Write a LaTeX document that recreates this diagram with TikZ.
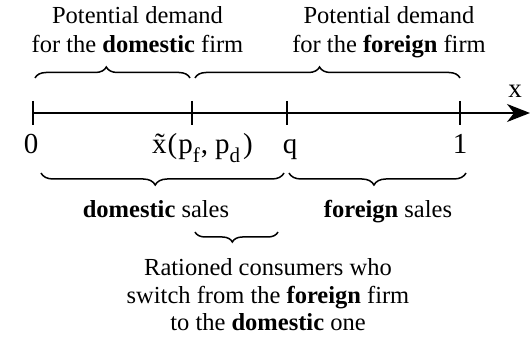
\documentclass[tikz,border=0pt]{standalone}
\usepackage{fontspec}
\setmainfont{Liberation Serif}
\usetikzlibrary{arrows.meta,decorations.pathreplacing}
\newcommand\mysub[1]{\raisebox{-0.3em}{\fontsize{21}{21}\selectfont #1}}
\begin{document}
\begin{tikzpicture}[x=1pt,y=1pt,
  axisline/.style={line width=1.5pt},
  bracebig/.style={line width=1.5pt,decorate,decoration={brace,amplitude=11pt,aspect=#1}},
  bracemir/.style={line width=1.5pt,decorate,decoration={brace,mirror,amplitude=12pt,aspect=#1}},
  toptext/.style={align=center,inner sep=0pt,anchor=north,font=\fontsize{24.5}{29}\selectfont},
  lowtext/.style={align=center,inner sep=0pt,anchor=north,font=\fontsize{24.5}{27.5}\selectfont},
  labtext/.style={inner sep=0pt,anchor=base,font=\fontsize{24.5}{29}\selectfont},
  axlab/.style={inner sep=0pt,anchor=base,font=\fontsize{29}{30}\selectfont}]
\useasboundingbox (0,0) rectangle (531,340);
% axis
\coordinate (a0) at (33,227);
\coordinate (aend) at (530,227);
\draw[axisline,-{Stealth[length=23pt,width=18pt,inset=7pt]}] (a0) -- (aend);
\coordinate (t0) at (33,227);
\coordinate (tx) at (192,227);
\coordinate (tq) at (287,227);
\coordinate (t1) at (460,227);
\foreach \t in {t0,tx,tq,t1}
  \draw[axisline] ([yshift=12pt]\t) -- ([yshift=-12pt]\t);
\node[axlab,font=\fontsize{27}{30}\selectfont] (xlab) at (515,242) {x};
% axis labels
\node[axlab] (l0) at (31,186) {0};
\node[axlab,anchor=base west] (lx) at (152,186) {\~{x}\kern1pt(\kern1pt p\mysub{f}\kern1pt,\kern7pt p\mysub{d}\kern3pt)};
\node[axlab] (lq) at (290,186) {q};
\node[axlab] (l1) at (460,186) {1};
% top braces
\coordinate (b1s) at (35,262); \coordinate (b1e) at (190,262);
\coordinate (b2s) at (195,262); \coordinate (b2e) at (460,262);
\draw[bracebig=0.46] (b1s) -- (b1e);
\draw[bracebig=0.47] (b2s) -- (b2e);
\node[toptext] (tdom) at (137.5,333.9) {Potential demand\\for the \textbf{domestic} firm};
\node[toptext] (tfor) at (389,333.9) {Potential demand\\for the \textbf{foreign} firm};
% bottom braces
\coordinate (b3s) at (41,167); \coordinate (b3e) at (284,167);
\coordinate (b4s) at (289,167); \coordinate (b4e) at (466,167);
\draw[bracemir=0.47] (b3s) -- (b3e);
\draw[bracemir=0.48] (b4s) -- (b4e);
\node[labtext] (dsales) at (156,122) {\textbf{domestic} sales};
\node[labtext] (fsales) at (388,122) {\textbf{foreign} sales};
\coordinate (b5s) at (195,108); \coordinate (b5e) at (278,108);
\draw[line width=1.5pt,decorate,decoration={brace,mirror,amplitude=10pt,aspect=0.45}] (b5s) -- (b5e);
\node[lowtext] (ration) at (268,81.6) {Rationed consumers who\\switch from the \textbf{foreign} firm\\to the \textbf{domestic} one};
\end{tikzpicture}
\end{document}
